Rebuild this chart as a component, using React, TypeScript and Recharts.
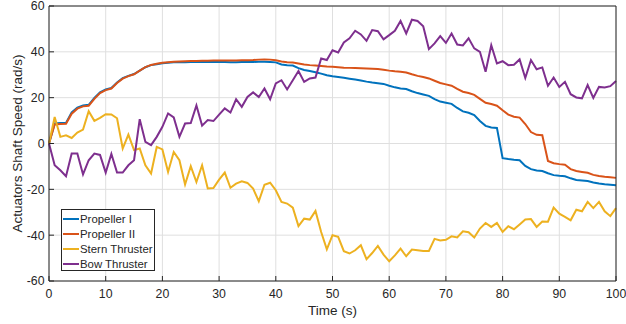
import React from 'react';
import { LineChart, Line, XAxis, YAxis, CartesianGrid, Legend } from 'recharts';

const time = [
  0, 1, 2, 3, 4, 5, 6, 7, 8, 9, 10, 11, 12, 13, 14, 15, 16, 17, 18, 19, 20,
  21, 22, 23, 24, 25, 26, 27, 28, 29, 30, 31, 32, 33, 34, 35, 36, 37, 38, 39, 40,
  41, 42, 43, 44, 45, 46, 47, 48, 49, 50, 51, 52, 53, 54, 55, 56, 57, 58, 59, 60,
  61, 62, 63, 64, 65, 66, 67, 68, 69, 70, 71, 72, 73, 74, 75, 76, 77, 78, 79, 80,
  81, 82, 83, 84, 85, 86, 87, 88, 89, 90, 91, 92, 93, 94, 95, 96, 97, 98, 99, 100,
];

const propellerOne = [
  0, 8.7, 8.9, 9, 13.6, 15.7, 16.6, 16.9, 19.9, 22.3, 23.6,
  24.2, 26.6, 28.5, 29.5, 30.3, 31.8, 33.3, 34.2, 34.6, 35,
  35.2, 35.4, 35.5, 35.5, 35.6, 35.6, 35.6, 35.6, 35.6, 35.6,
  35.6, 35.5, 35.5, 35.6, 35.6, 35.6, 35.7, 35.7, 35.6, 35.4,
  34.5, 34.1, 34, 32.9, 32.1, 31.6, 31.1, 30.5, 29.8, 29.3,
  29, 28.7, 28.3, 27.9, 27.5, 27, 26.6, 26.3, 26, 25.2,
  24.5, 24, 23.8, 22.8, 22, 21.4, 20.8, 19.4, 18.3, 17.8,
  17.3, 15.5, 14, 13.4, 12.4, 9.8, 7.7, 7, 6.8, -6.4,
  -6.8, -7.1, -7.3, -9.8, -11.2, -11.8, -12, -13, -13.8, -14.1,
  -14.3, -15.2, -15.9, -16.1, -16.4, -17, -17.5, -17.8, -18, -18.2,
];

const propellerTwo = [
  0, 8.3, 8.5, 8.6, 13, 15.2, 16.2, 16.5, 19.5, 22, 23.3,
  24, 26.4, 28.3, 29.4, 30.2, 31.8, 33.3, 34.3, 34.8, 35.2,
  35.5, 35.7, 35.8, 35.9, 36, 36, 36.1, 36.1, 36.2, 36.2,
  36.2, 36.2, 36.2, 36.3, 36.3, 36.4, 36.6, 36.7, 36.6, 36.3,
  35.8, 35.5, 35.3, 34.9, 34.5, 34.2, 34, 33.8, 33.6, 33.5,
  33.3, 33.1, 33, 32.9, 32.8, 32.7, 32.6, 32.5, 32.2, 31.8,
  31.5, 31.3, 31, 30.2, 29.5, 29, 28.4, 27.4, 26.4, 25.8,
  25.2, 23.8, 22.6, 22, 21.2, 19.5, 17.8, 17.2, 16.5, 14.5,
  12.6, 11.7, 11.3, 8.5, 5, 3.8, 3.6, -7.6, -8.6, -9,
  -9.3, -11.2, -12, -12.4, -12.8, -13.7, -14.2, -14.5, -14.7, -15,
];

const sternThruster = [
  0, 11.6, 2.9, 3.6, 2.4, 4.8, 6.1, 14.1, 9.9, 11.2, 12.8,
  12.7, 11, -2.2, 3.9, -2.9, -2.2, -9.5, -13.1, -1.5, -2.6,
  -12.4, -3.7, -7.3, -17.9, -9.9, -16.8, -9.5, -19.6, -19.4, -15.8,
  -12.7, -19.3, -17.5, -16.5, -17.2, -19.7, -25.2, -18, -17.1, -20.4,
  -25.5, -26.2, -28, -36, -32.8, -33.2, -29.4, -38.6, -46.2, -40,
  -40.7, -47, -48, -46.6, -44.4, -50.5, -47.8, -44.7, -48.5, -51.4,
  -48.8, -45.9, -49.2, -46.3, -46.6, -46.9, -46.9, -41.6, -42.3, -42,
  -40.5, -41, -38.3, -38.7, -41, -37.1, -34.7, -36.4, -34.7, -38.6,
  -36.1, -37.4, -35.3, -33.2, -33, -36.4, -34, -34.1, -28, -30.6,
  -32, -33.5, -28.9, -29.6, -25.5, -28.2, -25.5, -29.6, -31.7, -28.2,
];

const bowThruster = [
  0, -9.5, -11.7, -14.3, -4.4, -4.4, -13.5, -7.3, -4.4, -5, -12.7,
  -4.6, -12.7, -12.7, -9.5, -7.3, 10.6, 0.7, -0.7, 2.9, 7.3,
  13.1, 11.4, 2.9, 8.7, 8.9, 16.6, 7.8, 10.2, 9.8, 12.6,
  15.3, 13.5, 19.3, 16, 20.3, 22.3, 20.3, 24, 19.3, 26.2,
  27.6, 23.6, 27.6, 31.6, 26.9, 28.4, 28.8, 37.1, 36.4, 40.7,
  39.7, 44.1, 45.9, 49.2, 47.6, 44.8, 49.5, 49, 45.5, 47.3,
  49.2, 53.5, 48, 54, 53.5, 51.2, 41.2, 43.7, 46.9, 43.9,
  48, 43.2, 42.8, 45.9, 41.5, 40, 31.3, 42.9, 34.9, 35.9,
  34.2, 34.4, 36.7, 28.6, 36.4, 32.4, 33.2, 25.2, 28.8, 24.7,
  26.9, 21.5, 20.1, 19.7, 25.5, 19.9, 24.7, 24.4, 25, 27.3,
];

const seriesNames = ['Propeller I', 'Propeller II', 'Stern Thruster', 'Bow Thruster'];
const xTicks = [0, 10, 20, 30, 40, 50, 60, 70, 80, 90, 100];
const yTicks = [-60, -40, -20, 0, 20, 40, 60];

const data = time.map((t, i) => ({
  t,
  p1: propellerOne[i],
  p2: propellerTwo[i],
  stern: sternThruster[i],
  bow: bowThruster[i],
}));

const axisColor = '#262626';

const LegendBox = (props: any) => {
  // keep plotting order, recharts sorts by name otherwise
  const payload = [...(props.payload || [])].sort(
    (a: any, b: any) => seriesNames.indexOf(a.value) - seriesNames.indexOf(b.value)
  );
  return (
    <div
      style={{
        width: 94,
        height: 62,
        border: `1px solid ${axisColor}`,
        background: '#fff',
        boxSizing: 'border-box',
        paddingTop: 1,
      }}
    >
      {payload.map((entry: any) => (
        <div
          key={entry.value}
          style={{ display: 'flex', alignItems: 'center', height: 15, fontSize: 11.4, color: axisColor, whiteSpace: 'nowrap' }}
        >
          <span style={{ display: 'inline-block', width: 16, height: 2, background: entry.color, marginLeft: 1, marginRight: 1 }} />
          <span>{entry.value}</span>
        </div>
      ))}
    </div>
  );
};

export default function App() {
  return (
    <div
      style={{
        position: 'absolute',
        left: 0,
        top: 0,
        width: 626,
        height: 324,
        background: '#fff',
        fontFamily: '"Liberation Sans", Arial, sans-serif',
      }}
    >
      <LineChart width={626} height={324} data={data} margin={{ top: 5, right: 9, left: 0, bottom: 0 }}>
        <CartesianGrid stroke="#dfdfdf" />
        <XAxis
          dataKey="t"
          type="number"
          domain={[0, 100]}
          ticks={xTicks}
          interval={0}
          height={43}
          tickSize={-5}
          tickMargin={13}
          stroke={axisColor}
          tick={{ fill: axisColor, fontSize: 12.3 }}
          label={{ value: 'Time (s)', position: 'insideBottom', offset: 9, fill: axisColor, fontSize: 13.5 }}
        />
        <XAxis
          xAxisId="top"
          orientation="top"
          dataKey="t"
          type="number"
          domain={[0, 100]}
          ticks={xTicks}
          interval={0}
          height={1}
          tickSize={-5}
          tick={false}
          stroke={axisColor}
        />
        <YAxis
          type="number"
          domain={[-60, 60]}
          ticks={yTicks}
          interval={0}
          width={49}
          tickSize={-5}
          tickMargin={9.5}
          stroke={axisColor}
          tick={{ fill: axisColor, fontSize: 12.3 }}
          label={{
            value: 'Actuators Shaft Speed (rad/s)',
            angle: -90,
            position: 'insideLeft',
            offset: 17,
            fill: axisColor,
            fontSize: 13.5,
            style: { textAnchor: 'middle' },
          }}
        />
        <YAxis
          yAxisId="r"
          orientation="right"
          type="number"
          domain={[-60, 60]}
          ticks={yTicks}
          interval={0}
          width={1}
          tickSize={-5}
          tick={false}
          stroke={axisColor}
        />
        <Legend
          layout="vertical"
          align="center"
          verticalAlign="middle"
          content={<LegendBox />}
          wrapperStyle={{ left: 61, top: 209, width: 94, height: 62 }}
        />
        <Line name={seriesNames[0]} dataKey="p1" stroke="#0072BD" strokeWidth={2} dot={false} isAnimationActive={false} />
        <Line name={seriesNames[1]} dataKey="p2" stroke="#D95319" strokeWidth={2} dot={false} isAnimationActive={false} />
        <Line name={seriesNames[2]} dataKey="stern" stroke="#EDB120" strokeWidth={2} dot={false} isAnimationActive={false} />
        <Line name={seriesNames[3]} dataKey="bow" stroke="#7E2F8E" strokeWidth={2} dot={false} isAnimationActive={false} />
      </LineChart>
    </div>
  );
}
